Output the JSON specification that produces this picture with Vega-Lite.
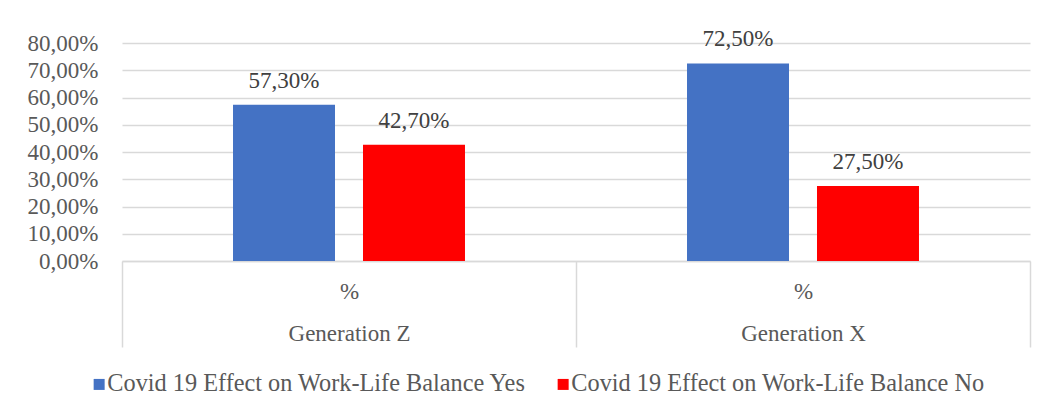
{
  "$schema": "https://vega.github.io/schema/vega-lite/v6.json",
  "width": 908,
  "height": 218,
  "autosize": "none",
  "padding": {"left": 122, "top": 43, "right": 15, "bottom": 147},
  "background": "white",
  "config": {"font": "Times New Roman, Liberation Serif, DejaVu Serif, serif", "view": {"stroke": null}},
  "data": {
    "values": [
      {"generation": "Generation Z", "response": "Covid 19 Effect on Work-Life Balance Yes", "value": 0.573},
      {"generation": "Generation Z", "response": "Covid 19 Effect on Work-Life Balance No", "value": 0.427},
      {"generation": "Generation X", "response": "Covid 19 Effect on Work-Life Balance Yes", "value": 0.725},
      {"generation": "Generation X", "response": "Covid 19 Effect on Work-Life Balance No", "value": 0.275}
    ]
  },
  "encoding": {
    "x": {
      "field": "generation",
      "type": "nominal",
      "sort": ["Generation Z", "Generation X"],
      "scale": {"paddingInner": 0, "paddingOuter": 0},
      "axis": {
        "title": null,
        "labelAngle": 0,
        "domainColor": "#d9d9d9",
        "domainWidth": 1.5,
        "ticks": true,
        "tickBand": "extent",
        "tickSize": 86,
        "tickColor": "#d9d9d9",
        "tickWidth": 1.5,
        "labelPadding": -67,
        "labelFont": "Times New Roman, Liberation Serif, DejaVu Serif, serif",
        "labelFontSize": 23,
        "labelColor": "#595959",
        "labelExpr": "datum.label ? ['%', datum.label] : ''",
        "labelLineHeight": 42
      }
    },
    "xOffset": {
      "field": "response",
      "type": "nominal",
      "sort": ["Covid 19 Effect on Work-Life Balance Yes", "Covid 19 Effect on Work-Life Balance No"],
      "scale": {"paddingInner": 0.2154, "paddingOuter": 0.854}
    },
    "y": {
      "field": "value",
      "type": "quantitative",
      "scale": {"domain": [0, 0.8]},
      "axis": {
        "title": null,
        "values": [0, 0.1, 0.2, 0.3, 0.4, 0.5, 0.6, 0.7, 0.8],
        "labelExpr": "replace(format(datum.value, '.2%'), '.', ',')",
        "domain": false,
        "ticks": false,
        "labelPadding": 24,
        "gridColor": "#d9d9d9",
        "gridWidth": 1.5,
        "labelFont": "Times New Roman, Liberation Serif, DejaVu Serif, serif",
        "labelFontSize": 23,
        "labelColor": "#595959"
      }
    }
  },
  "layer": [
    {
      "mark": {"type": "bar"},
      "encoding": {
        "color": {
          "field": "response",
          "type": "nominal",
          "sort": ["Covid 19 Effect on Work-Life Balance Yes", "Covid 19 Effect on Work-Life Balance No"],
          "scale": {"range": ["#4472C4", "#FF0000"]},
          "legend": {
            "title": null,
            "orient": "none",
            "legendX": -35,
            "legendY": 329,
            "direction": "horizontal",
            "symbolType": "square",
            "symbolSize": 121,
            "symbolStrokeWidth": 0,
            "symbolOpacity": 1,
            "labelFont": "Times New Roman, Liberation Serif, DejaVu Serif, serif",
            "labelFontSize": 24.3,
            "labelColor": "#595959",
            "labelLimit": 0,
            "columnPadding": 24,
            "labelOffset": -4
          }
        }
      }
    },
    {
      "transform": [{"calculate": "replace(format(datum.value, '.2%'), '.', ',')", "as": "label"}],
      "mark": {"type": "text", "dy": -17, "baseline": "alphabetic", "fontSize": 23, "color": "#404040", "font": "Times New Roman, Liberation Serif, DejaVu Serif, serif"},
      "encoding": {"text": {"field": "label"}}
    }
  ]
}
